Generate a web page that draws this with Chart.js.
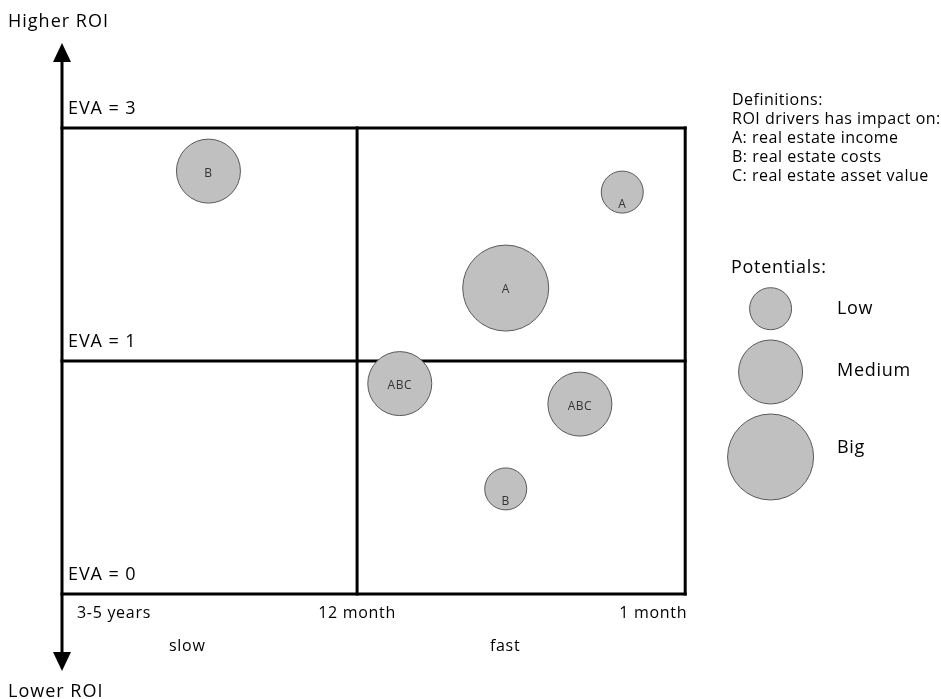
<!DOCTYPE html>
<html>
<head>
<meta charset="utf-8">
<script src="https://cdn.jsdelivr.net/npm/chart.js@4.4.0/dist/chart.umd.min.js"></script>
<style>
  html, body { margin: 0; padding: 0; background: #fff; }
  #wrap { width: 941px; height: 699px; }
</style>
</head>
<body>
<div id="wrap"><canvas id="myChart" width="941" height="699"></canvas></div>
<script>
// axis ticks (x = speed of effect, y = EVA level)
var speedTicks = [0, 47.35, 100];
var speedLabels = ["3-5 years", "12 month", "1 month"];
var evaTicks = [0, 1, 2];
var evaLabels = ["EVA = 0", "EVA = 1", "EVA = 3"];

// ROI drivers
var driverLabels = ["B", "A", "A", "ABC", "ABC", "B"];
var driverSpeed = [23.5, 89.9, 71.2, 54.2, 83.1, 71.2];
var driverEva = [1.815, 1.725, 1.313, 0.903, 0.815, 0.451];
var driverPotential = ["Medium", "Low", "Big", "Medium", "Medium", "Low"];

// potentials key
var potentialNames = ["Low", "Medium", "Big"];
var potentialSpeed = [113.7, 113.7, 113.7];
var potentialEva = [1.2245, 0.9528, 0.588];

var definitions = [
  "Definitions:",
  "ROI drivers has impact on:",
  "A: real estate income",
  "B: real estate costs",
  "C: real estate asset value"
];

var FONT = "'Open Sans', 'Noto Sans', sans-serif";
var radius = { Low: 21, Medium: 32, Big: 43 };
var keyLabelShift = [0, -1, -9];

function bubbles(xs, ys, sizes) {
  return xs.map(function (x, i) {
    return { x: x, y: ys[i], r: radius[sizes[i]] };
  });
}

function setFont(ctx, size, spacing) {
  ctx.font = size + "px " + FONT;
  ctx.letterSpacing = spacing + "px";
}

var quadrants = {
  id: "quadrants",
  beforeDatasetsDraw: function (chart) {
    var ctx = chart.ctx;
    var xs = chart.scales.x;
    var ys = chart.scales.y;
    var left = xs.getPixelForValue(speedTicks[0]);
    var right = xs.getPixelForValue(speedTicks[speedTicks.length - 1]);
    var top = ys.getPixelForValue(evaTicks[evaTicks.length - 1]);
    var bottom = ys.getPixelForValue(evaTicks[0]);
    ctx.save();
    ctx.strokeStyle = "#000";
    ctx.lineWidth = 3;
    ctx.lineCap = "square";
    evaTicks.forEach(function (v) {
      var py = ys.getPixelForValue(v);
      ctx.beginPath();
      ctx.moveTo(left, py);
      ctx.lineTo(right, py);
      ctx.stroke();
    });
    speedTicks.slice(1).forEach(function (v) {
      var px = xs.getPixelForValue(v);
      ctx.beginPath();
      ctx.moveTo(px, top);
      ctx.lineTo(px, bottom);
      ctx.stroke();
    });
    // ROI arrow
    ctx.lineCap = "butt";
    ctx.beginPath();
    ctx.moveTo(left, 58);
    ctx.lineTo(left, 656);
    ctx.stroke();
    ctx.fillStyle = "#000";
    ctx.beginPath();
    ctx.moveTo(left, 43);
    ctx.lineTo(left - 9, 62);
    ctx.lineTo(left + 9, 62);
    ctx.closePath();
    ctx.fill();
    ctx.beginPath();
    ctx.moveTo(left, 671);
    ctx.lineTo(left - 9, 652);
    ctx.lineTo(left + 9, 652);
    ctx.closePath();
    ctx.fill();
    ctx.restore();
  },
  afterDatasetsDraw: function (chart) {
    var ctx = chart.ctx;
    var xs = chart.scales.x;
    var ys = chart.scales.y;
    var bottom = ys.getPixelForValue(evaTicks[0]);
    ctx.save();
    ctx.fillStyle = "#333";
    ctx.textAlign = "center";
    ctx.textBaseline = "middle";
    setFont(ctx, 12, 0.5);
    chart.getDatasetMeta(0).data.forEach(function (el, i) {
      var dy = driverPotential[i] === "Low" ? 13 : 2;
      ctx.fillText(driverLabels[i], el.x, el.y + dy);
    });

    ctx.fillStyle = "#000";
    // EVA labels
    setFont(ctx, 18, 0.9);
    ctx.textAlign = "left";
    evaTicks.forEach(function (v, i) {
      ctx.fillText(evaLabels[i], xs.left + 6, ys.getPixelForValue(v) - 19);
    });
    // speed labels
    setFont(ctx, 16, 0.7);
    speedTicks.forEach(function (v, i) {
      var px = xs.getPixelForValue(v);
      if (i === 0) { ctx.textAlign = "left"; px += 15; }
      else if (i === speedTicks.length - 1) { ctx.textAlign = "right"; px += 2; }
      else { ctx.textAlign = "center"; }
      ctx.fillText(speedLabels[i], px, bottom + 19);
    });
    ctx.textAlign = "center";
    ctx.fillText("slow", xs.getPixelForValue(20.1), bottom + 52);
    ctx.fillText("fast", xs.getPixelForValue(71.1), bottom + 52);
    // ROI arrow labels
    setFont(ctx, 18, 1);
    ctx.textAlign = "left";
    ctx.fillText("Higher ROI", 8, 22);
    ctx.fillText("Lower ROI", 8, 692);
    // definitions
    setFont(ctx, 16, 0.5);
    definitions.forEach(function (t, i) {
      ctx.fillText(t, 732, 100 + i * 19.2);
    });
    // potentials key
    setFont(ctx, 18, 0.7);
    ctx.fillText("Potentials:", 731, 268);
    chart.getDatasetMeta(1).data.forEach(function (el, i) {
      ctx.fillText(potentialNames[i], 837, el.y + keyLabelShift[i]);
    });
    ctx.restore();
  }
};

var chart = new Chart(document.getElementById("myChart").getContext("2d"), {
  type: "bubble",
  data: {
    datasets: [
      {
        label: "ROI drivers",
        data: bubbles(driverSpeed, driverEva, driverPotential),
        backgroundColor: "#c0c0c0",
        borderColor: "#595959",
        borderWidth: 1,
        clip: false
      },
      {
        label: "Potentials",
        data: bubbles(potentialSpeed, potentialEva, potentialNames),
        backgroundColor: "#c0c0c0",
        borderColor: "#595959",
        borderWidth: 1,
        clip: false
      }
    ]
  },
  options: {
    responsive: false,
    animation: false,
    layout: { padding: { left: 62, top: 128, right: 100, bottom: 105 } },
    scales: {
      x: { type: "linear", min: 0, max: 125, display: false },
      y: { type: "linear", min: 0, max: 2, display: false }
    },
    plugins: {
      legend: { display: false },
      tooltip: { enabled: false }
    },
    elements: { point: { hoverRadius: 0 } }
  },
  plugins: [quadrants]
});
</script>
</body>
</html>
